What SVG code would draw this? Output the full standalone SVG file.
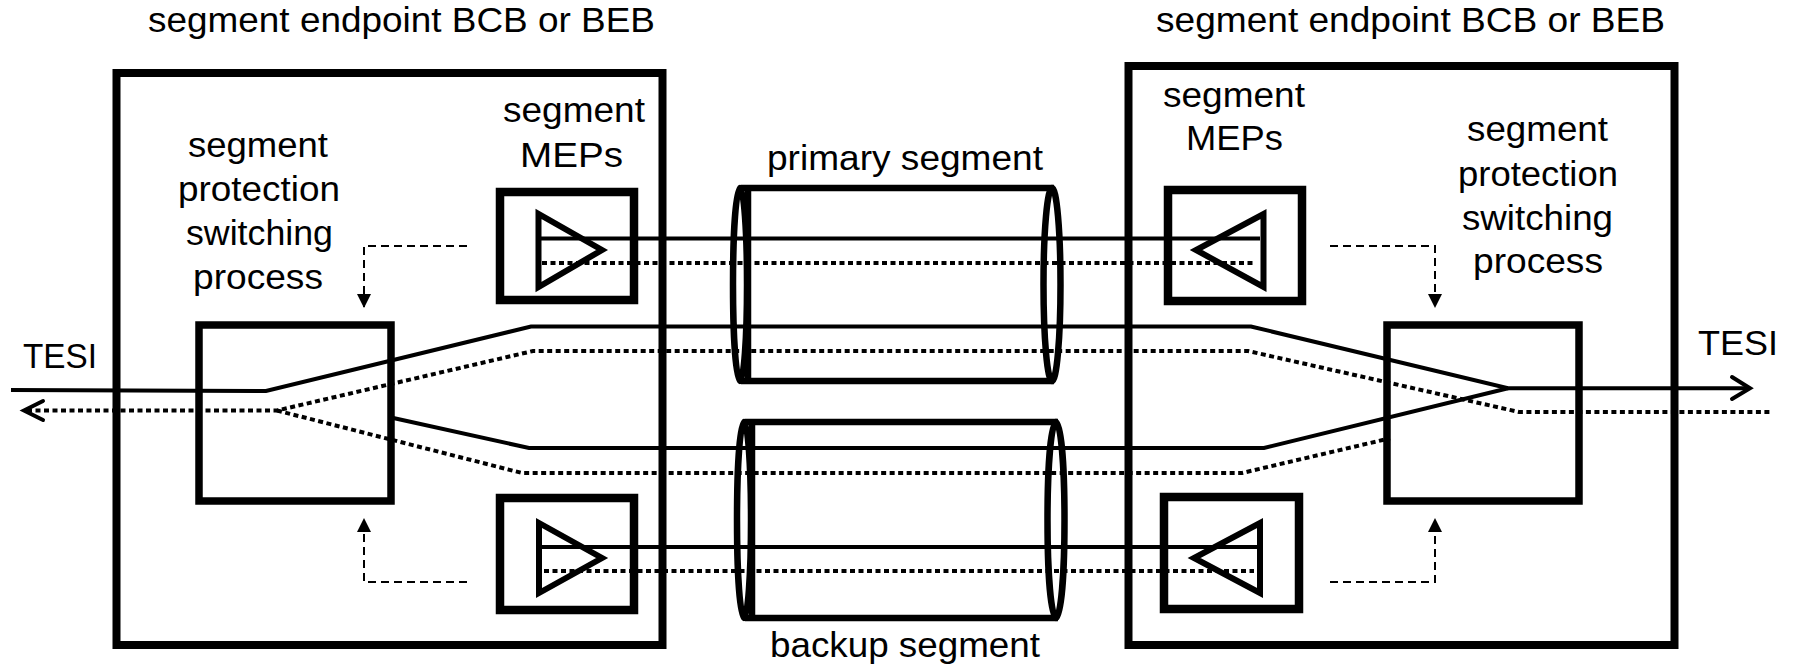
<svg xmlns="http://www.w3.org/2000/svg" width="1795" height="666" viewBox="0 0 1795 666">
<defs>
<style>
text{font-family:"Liberation Sans",Arial,sans-serif;font-size:35px;fill:#000}
.box{fill:none;stroke:#000}
.outer{stroke-width:8}
.ps{stroke-width:7.5}
.mep{stroke-width:8.5}
.tri{fill:none;stroke:#000;stroke-width:6;stroke-linejoin:miter}
.sol{fill:none;stroke:#000;stroke-width:4}
.dot{fill:none;stroke:#000;stroke-width:4;stroke-dasharray:5 3.5}
.ctl{fill:none;stroke:#000;stroke-width:2;stroke-dasharray:8 5}
.cyl{fill:none;stroke:#000;stroke-width:6.5}
.chev{fill:none;stroke:#000;stroke-width:4;stroke-linecap:round;stroke-linejoin:miter}
</style>
<marker id="ah" viewBox="0 0 10 10" refX="10" refY="5" markerUnits="userSpaceOnUse" markerWidth="14" markerHeight="15" orient="auto">
<path d="M0,0 L10,5 L0,10 z" fill="#000"/>
</marker>
</defs>
<rect width="1795" height="666" fill="#fff"/>

<g id="left-endpoint">
<rect class="box outer" x="116.5" y="73" width="546" height="572"/>
<text x="148" y="32" textLength="507" lengthAdjust="spacingAndGlyphs">segment endpoint BCB or BEB</text>
</g>
<g id="right-endpoint">
<rect class="box outer" x="1128.5" y="66" width="546" height="579"/>
<text x="1156" y="32" textLength="509" lengthAdjust="spacingAndGlyphs">segment endpoint BCB or BEB</text>
</g>

<g id="left-ps">
<rect class="box ps" x="199" y="325" width="192" height="176"/>
<text x="188" y="157" textLength="140" lengthAdjust="spacingAndGlyphs">segment</text>
<text x="178" y="201" textLength="162" lengthAdjust="spacingAndGlyphs">protection</text>
<text x="186" y="245" textLength="147" lengthAdjust="spacingAndGlyphs">switching</text>
<text x="193" y="289" textLength="130" lengthAdjust="spacingAndGlyphs">process</text>
</g>
<g id="right-ps">
<rect class="box ps" x="1387" y="325" width="192" height="176"/>
<text x="1467" y="141" textLength="141" lengthAdjust="spacingAndGlyphs">segment</text>
<text x="1458" y="186" textLength="160" lengthAdjust="spacingAndGlyphs">protection</text>
<text x="1462" y="230" textLength="151" lengthAdjust="spacingAndGlyphs">switching</text>
<text x="1473" y="273" textLength="130" lengthAdjust="spacingAndGlyphs">process</text>
</g>

<g id="left-meps">
<text x="503" y="122" textLength="142" lengthAdjust="spacingAndGlyphs">segment</text>
<text x="520" y="167" textLength="103" lengthAdjust="spacingAndGlyphs">MEPs</text>
<rect class="box mep" x="500" y="192" width="134" height="108"/>
<polygon class="tri" points="538.5,214 538.5,287 602,250"/>
<rect class="box mep" x="500" y="498" width="134" height="112"/>
<polygon class="tri" points="539,523 539,593 602,558"/>
</g>
<g id="right-meps">
<text x="1163" y="107" textLength="142" lengthAdjust="spacingAndGlyphs">segment</text>
<text x="1186" y="150" textLength="97" lengthAdjust="spacingAndGlyphs">MEPs</text>
<rect class="box mep" x="1168" y="190" width="134" height="111"/>
<polygon class="tri" points="1263.5,214 1263.5,287 1196,250"/>
<rect class="box mep" x="1164" y="497" width="135" height="112"/>
<polygon class="tri" points="1260,523 1260,593 1194,558"/>
</g>

<g id="primary-segment">
<line class="cyl" x1="741" y1="188" x2="1054" y2="188"/>
<line class="cyl" x1="741" y1="381" x2="1054" y2="381"/>
<ellipse class="cyl" cx="740" cy="284.5" rx="7" ry="96.5"/>
<line class="cyl" x1="748" y1="188" x2="748" y2="381"/>
<ellipse class="cyl" cx="1052" cy="284.5" rx="8.5" ry="96.5"/>
<text x="767" y="170" textLength="276" lengthAdjust="spacingAndGlyphs">primary segment</text>
</g>
<g id="backup-segment">
<line class="cyl" x1="745" y1="422" x2="1058" y2="422"/>
<line class="cyl" x1="745" y1="618" x2="1058" y2="618"/>
<ellipse class="cyl" cx="744" cy="520" rx="7" ry="98"/>
<line class="cyl" x1="752" y1="422" x2="752" y2="618"/>
<ellipse class="cyl" cx="1056" cy="520" rx="8.5" ry="98"/>
<text x="770" y="657" textLength="270" lengthAdjust="spacingAndGlyphs">backup segment</text>
</g>

<g id="tesi-labels">
<text x="23" y="368" textLength="74" lengthAdjust="spacingAndGlyphs">TESI</text>
<text x="1698" y="355" textLength="80" lengthAdjust="spacingAndGlyphs">TESI</text>
</g>

<g id="connectors">
<line class="sol" x1="540" y1="238.5" x2="1260" y2="238.5"/>
<line class="dot" x1="542" y1="263" x2="1254" y2="263"/>
<line class="sol" x1="542" y1="547" x2="1257" y2="547"/>
<line class="dot" x1="544" y1="571" x2="1254" y2="571"/>
<polyline class="sol" points="11,390 266,391 531,326.5 1251,326.5 1508,388.3 1749,388.3"/>
<polyline class="sol" points="391,417.5 529,448 1264,448 1508,388.3"/>
<polyline class="dot" points="27,410.5 277,410.5 533,351 1248,351 1519,412 1772,412"/>
<polyline class="dot" points="277,410.5 522,473 1242,473 1390,438.3"/>
<polyline class="chev" points="1732,377 1750,388.3 1732,399"/>
<polyline class="chev" points="43,401 24,410.5 43,420"/>
<polyline class="ctl" points="467,246 364,246 364,308" marker-end="url(#ah)"/>
<polyline class="ctl" points="467,582 364,582 364,518" marker-end="url(#ah)"/>
<polyline class="ctl" points="1330,246 1435,246 1435,308" marker-end="url(#ah)"/>
<polyline class="ctl" points="1330,582 1435,582 1435,518" marker-end="url(#ah)"/>
</g>
</svg>
